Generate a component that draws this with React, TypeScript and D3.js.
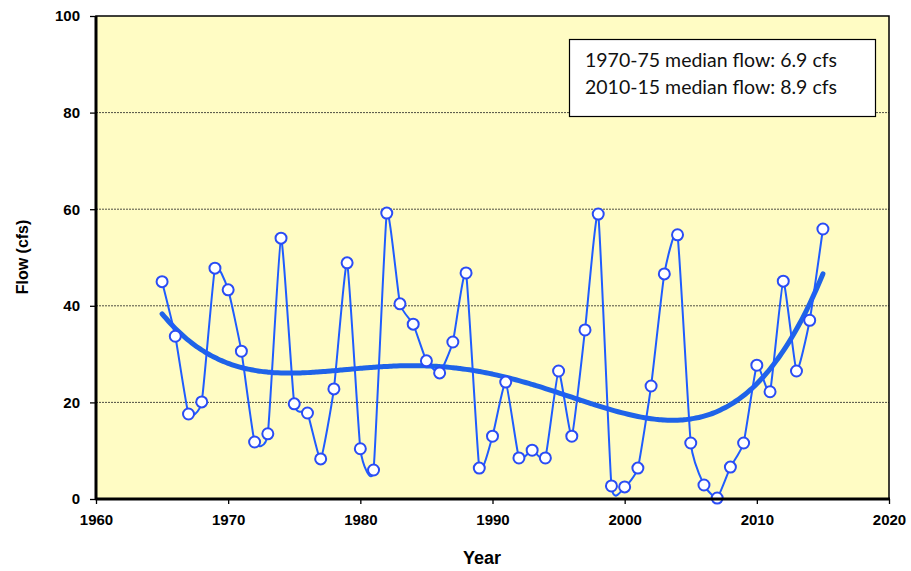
import { useRef, useEffect } from "react";
import * as d3 from "d3";

const years = d3.range(1965, 2016);
const flows = [
  45, 33.7, 17.6, 20.1, 47.8, 43.3, 30.6, 11.8, 13.5, 54,
  19.7, 17.8, 8.3, 22.8, 48.9, 10.4, 6, 59.2, 40.4, 36.2,
  28.6, 26.1, 32.5, 46.8, 6.4, 13, 24.2, 8.5, 10.1, 8.5,
  26.5, 13, 35, 59, 2.7, 2.5, 6.4, 23.4, 46.6, 54.7,
  11.6, 2.9, 0.2, 6.6, 11.6, 27.7, 22.2, 45.1, 26.5, 37,
  55.9,
];
const xTicks = [1960, 1970, 1980, 1990, 2000, 2010, 2020];
const yTicks = [0, 20, 40, 60, 80, 100];
const notes = ["1970-75 median flow: 6.9 cfs", "2010-15 median flow: 8.9 cfs"];

// least-squares polynomial trendline (like Excel's)
function polyFit(xs: number[], ys: number[], order: number) {
  const n = order + 1;
  const A = Array.from({ length: n }, () => new Array(n + 1).fill(0));
  xs.forEach((x, k) => {
    for (let i = 0; i < n; i++) {
      for (let j = 0; j < n; j++) A[i][j] += Math.pow(x, i + j);
      A[i][n] += ys[k] * Math.pow(x, i);
    }
  });
  for (let c = 0; c < n; c++) {
    let p = c;
    for (let r = c + 1; r < n; r++) if (Math.abs(A[r][c]) > Math.abs(A[p][c])) p = r;
    [A[c], A[p]] = [A[p], A[c]];
    for (let r = 0; r < n; r++) {
      if (r === c) continue;
      const f = A[r][c] / A[c][c];
      for (let k = c; k <= n; k++) A[r][k] -= f * A[c][k];
    }
  }
  const coef = A.map((row, i) => row[n] / row[i]);
  return (x: number) => coef.reduce((s, c, i) => s + c * Math.pow(x, i), 0);
}

export default function App() {
  const svgRef = useRef<SVGSVGElement>(null);

  useEffect(() => {
    if (!svgRef.current) return;
    const svg = d3.select(svgRef.current);
    svg.selectAll("*").remove();

    const left = 96, right = 889, top = 16, bottom = 499;
    const x = d3.scaleLinear().domain([1960, 2020]).range([left, right]);
    const y = d3.scaleLinear().domain([0, 100]).range([bottom, top]);

    svg.append("clipPath").attr("id", "plot-clip")
      .append("rect")
      .attr("x", left).attr("y", top)
      .attr("width", right - left).attr("height", bottom - top);

    svg.append("rect")
      .attr("x", left).attr("y", top)
      .attr("width", right - left).attr("height", bottom - top)
      .attr("fill", "#fffcc4");

    // gridlines
    svg.append("g").selectAll("line")
      .data([20, 40, 60, 80])
      .join("line")
      .attr("x1", left).attr("x2", right)
      .attr("y1", (d) => y(d)).attr("y2", (d) => y(d))
      .attr("stroke", "#222")
      .attr("stroke-width", 0.8)
      .attr("stroke-dasharray", "2 1");

    // note box
    const nb = svg.append("g");
    nb.append("rect")
      .attr("x", 569.5).attr("y", 39.5).attr("width", 306).attr("height", 77)
      .attr("fill", "#ffffff").attr("stroke", "#000").attr("stroke-width", 1.2);
    nb.selectAll("text")
      .data(notes)
      .join("text")
      .attr("x", 585)
      .attr("y", (_, i) => 67 + i * 27)
      .attr("font-family", "Lato, 'Open Sans', sans-serif")
      .attr("font-size", 19.5)
      .attr("fill", "#111")
      .text((d) => d);

    // trendline
    const t = (yr: number) => (yr - 1990) / 25;
    const fit = polyFit(years.map(t), flows, 4);
    const trendYears = d3.range(1965, 2015.01, 0.25);
    svg.append("path")
      .datum(trendYears)
      .attr("d", d3.line<number>().x((d) => x(d)).y((d) => y(fit(t(d)))).curve(d3.curveMonotoneX))
      .attr("fill", "none")
      .attr("stroke", "#1f63e8")
      .attr("stroke-width", 5)
      .attr("stroke-linecap", "round");

    // data line (smoothed)
    svg.append("path")
      .datum(years)
      .attr("clip-path", "url(#plot-clip)")
      .attr("d", d3.line<number>().x((d) => x(d)).y((_, i) => y(flows[i])).curve(d3.curveCardinal.tension(0.55)))
      .attr("fill", "none")
      .attr("stroke", "#1f5cff")
      .attr("stroke-width", 2);

    svg.append("g").selectAll("circle")
      .data(years)
      .join("circle")
      .attr("cx", (d) => x(d))
      .attr("cy", (_, i) => y(flows[i]))
      .attr("r", 5.5)
      .attr("fill", "#ffffff")
      .attr("stroke", "#2a4cf5")
      .attr("stroke-width", 2);

    // frame
    svg.append("rect")
      .attr("x", left).attr("y", top)
      .attr("width", right - left).attr("height", bottom - top)
      .attr("fill", "none").attr("stroke", "#000").attr("stroke-width", 1.5);
    svg.append("line")
      .attr("x1", left - 0.5).attr("x2", right + 1)
      .attr("y1", bottom).attr("y2", bottom)
      .attr("stroke", "#000").attr("stroke-width", 3);
    svg.append("line")
      .attr("x1", left).attr("x2", left)
      .attr("y1", top).attr("y2", bottom + 1)
      .attr("stroke", "#000").attr("stroke-width", 3);

    // axes
    const xAxis = svg.append("g").attr("transform", `translate(0,${bottom})`);
    xAxis.call(d3.axisBottom(x).tickValues(d3.range(1960, 2021, 2)).tickSize(5).tickFormat(() => ""));
    xAxis.call(d3.axisBottom(x).tickValues(xTicks).tickSize(5).tickPadding(10).tickFormat(d3.format("d")));
    const yAxis = svg.append("g").attr("transform", `translate(${left},0)`);
    yAxis.call(d3.axisLeft(y).tickValues(d3.range(0, 101, 2)).tickSize(4).tickFormat(() => ""));
    yAxis.call(d3.axisLeft(y).tickValues(yTicks).tickSize(6).tickPadding(10).tickFormat(d3.format("d")));
    svg.selectAll(".domain").remove();
    svg.selectAll(".tick line").attr("stroke", "#000").attr("stroke-width", 1.3);
    svg.selectAll(".tick text")
      .attr("font-family", "Arial, 'Liberation Sans', sans-serif")
      .attr("font-weight", "bold")
      .attr("font-size", 15)
      .attr("fill", "#000");

    svg.append("text")
      .attr("x", 482).attr("y", 564)
      .attr("text-anchor", "middle")
      .attr("font-family", "Arial, 'Liberation Sans', sans-serif")
      .attr("font-weight", "bold").attr("font-size", 18)
      .text("Year");
    svg.append("text")
      .attr("transform", `translate(28,257) rotate(-90)`)
      .attr("text-anchor", "middle")
      .attr("font-family", "Arial, 'Liberation Sans', sans-serif")
      .attr("font-weight", "bold").attr("font-size", 16)
      .text("Flow (cfs)");
  }, []);

  return (
    <svg
      ref={svgRef}
      width={911}
      height={571}
      style={{ position: "absolute", left: 0, top: 0, background: "#fff" }}
    />
  );
}
